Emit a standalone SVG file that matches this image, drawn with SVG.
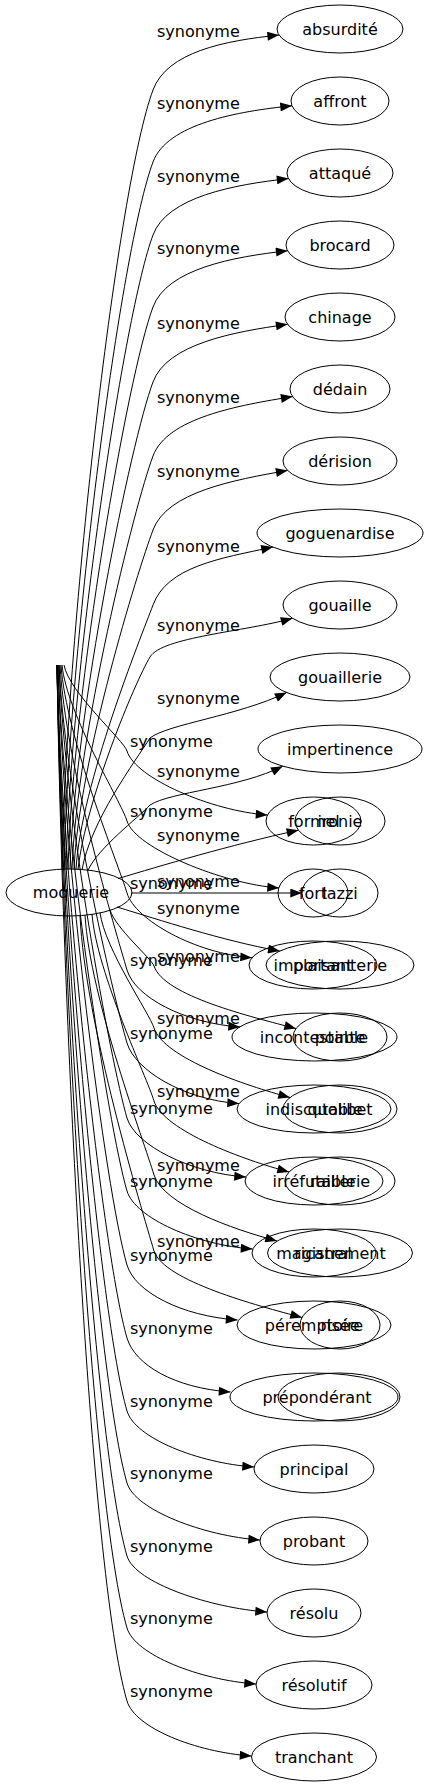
<svg xmlns="http://www.w3.org/2000/svg" width="429" height="1787" viewBox="0 0 429 1787">
<style>
.n ellipse{fill:none;stroke:#000;stroke-width:1}
text{font-family:"DejaVu Sans",Verdana,sans-serif;font-size:16px;fill:#000}
.n text{text-anchor:middle}
#edges path{fill:none;stroke:#000;stroke-width:1;marker-end:url(#ah)}
</style>
<defs>
<marker id="ah" viewBox="0 0 13 10" refX="13" refY="5" markerWidth="13" markerHeight="9" orient="auto" markerUnits="userSpaceOnUse"><path d="M0,0 L13,5 L0,10 z" fill="#000"/></marker>
</defs>
<g id="edges">
<path d="M62,869 C67,619 118,183.5 153,90 C167,52 224.4,40.6 279.1,35.1"/>
<path d="M64,869 C69,643 121,247 153,162 C167,124 237.3,111.3 292,105.8"/>
<path d="M66,869 C71,666 124.5,311 153,235 C167,197 233.8,184.6 288.5,178.6"/>
<path d="M68,869 C73,689 127.7,374.4 153,307 C167,269 232.9,256.8 287.6,250.8"/>
<path d="M70,869 C75,713 131.1,440.4 153,382 C167,344 233.2,331.9 287.6,324.3"/>
<path d="M72,869 C77,737 134.4,505.6 153,456 C167,418 238.3,405.3 292.6,396.6"/>
<path d="M74,869 C79,760 137.7,570.7 153,530 C167,492 233.5,480.1 287.6,470.4"/>
<path d="M76,869.2 C81,784.5 141.1,636.7 153,605 C167,567 219.1,558.4 272.9,547.1"/>
<path d="M78,869.5 C86,799 135,682 150,657 C162,637 244.4,631.8 292.5,618.3"/>
<path d="M82,870 C90,822 136,760 150,738 C168,724 238,716 286.6,692.5"/>
<path d="M88,870.3 C98,848 138,818 150,805 C170,792 240,788 282.7,766.2"/>
<path d="M118,878.6 C160,866 230,845 298.4,830.2"/>
<path d="M131,893 L302,893"/>
<path d="M117,907 C160,920 220,940 279.7,951.1"/>
<path d="M110,909.8 C115,927.8 152,959.1 154,966 C164,996 251,1016.6 296,1028.6"/>
<path d="M100,912.6 C105,949.5 149.8,1013.8 154,1028 C164,1058 245,1085.5 290,1097.5"/>
<path d="M92,914.2 C97,974 147.3,1078 154,1101 C164,1131 244,1160 289,1172"/>
<path d="M85,915.1 C90,998.3 144.6,1143 154,1175 C164,1205 232,1229 277,1241"/>
<path d="M80,915.6 C85,1023 141.9,1209.7 154,1251 C164,1281 257,1305.5 302,1317.5"/>
<path d="M64,665 C69,692.5 123.9,740.4 127,751 C135,778 211.5,811 267.5,815"/>
<path d="M62,665 C67,715 121.4,801.8 127,821 C135,848 223,884 279,888"/>
<path d="M61,665 C66,738 118.8,865 127,893 C135,920 196,953.7 252,957.7"/>
<path d="M60,665 C65,762.6 116,932.5 127,970 C135,997 184,1023 240,1027"/>
<path d="M59,665 C64,786 113.4,996.5 127,1043 C135,1070 183,1099.6 239,1103.6"/>
<path d="M59,665 C64,810 110.7,1062.3 127,1118 C135,1145 190,1173 246,1177"/>
<path d="M58,665 C63,833 108.1,1126.3 127,1191 C135,1218 196.5,1245 252.5,1249"/>
<path d="M58,665 C63,857 105.4,1191.2 127,1265 C135,1292 181.5,1316 237.5,1320"/>
<path d="M57,665 C62,880.4 102.8,1255.2 127,1338 C135,1365 174.5,1388 230.5,1392"/>
<path d="M57,665 C62,903.7 100.1,1319.2 127,1411 C135,1438 198,1463 254,1467"/>
<path d="M57,665 C62,926.8 97.6,1382.4 127,1483 C135,1510 204,1536 260,1540"/>
<path d="M57,665 C62,950 94.9,1446.4 127,1556 C135,1583 211,1608 267,1612"/>
<path d="M57,665 C62,973 92.3,1509.6 127,1628 C135,1655 200,1680 256,1684"/>
<path d="M57,665 C62,996.5 89.7,1573.6 127,1701 C135,1728 195.5,1752 251.5,1756"/>
<g id="labels">
<text x="157" y="37">synonyme</text>
<text x="157" y="109">synonyme</text>
<text x="157" y="182">synonyme</text>
<text x="157" y="254">synonyme</text>
<text x="157" y="329">synonyme</text>
<text x="157" y="403">synonyme</text>
<text x="157" y="477">synonyme</text>
<text x="157" y="552">synonyme</text>
<text x="157" y="631">synonyme</text>
<text x="157" y="704">synonyme</text>
<text x="157" y="777">synonyme</text>
<text x="157" y="841">synonyme</text>
<text x="157" y="887">synonyme</text>
<text x="157" y="914">synonyme</text>
<text x="157" y="962">synonyme</text>
<text x="157" y="1024">synonyme</text>
<text x="157" y="1097">synonyme</text>
<text x="157" y="1171">synonyme</text>
<text x="157" y="1247">synonyme</text>
<text x="130" y="747">synonyme</text>
<text x="130" y="817">synonyme</text>
<text x="130" y="889">synonyme</text>
<text x="130" y="966">synonyme</text>
<text x="130" y="1039">synonyme</text>
<text x="130" y="1114">synonyme</text>
<text x="130" y="1187">synonyme</text>
<text x="130" y="1261">synonyme</text>
<text x="130" y="1334">synonyme</text>
<text x="130" y="1407">synonyme</text>
<text x="130" y="1479">synonyme</text>
<text x="130" y="1552">synonyme</text>
<text x="130" y="1624">synonyme</text>
<text x="130" y="1697">synonyme</text>
</g>
</g>
<g id="moquerie" class="n"><ellipse cx="69" cy="892.5" rx="63" ry="23.5"/><text x="71" y="898">moquerie</text></g>
<g id="absurdite" class="n"><ellipse cx="340" cy="29" rx="63" ry="24"/><text x="340" y="35">absurdité</text></g>
<g id="affront" class="n"><ellipse cx="340" cy="101" rx="49" ry="24"/><text x="340" y="107">affront</text></g>
<g id="attaque" class="n"><ellipse cx="340" cy="173" rx="53" ry="24"/><text x="340" y="179">attaqué</text></g>
<g id="brocard" class="n"><ellipse cx="340" cy="245" rx="54" ry="24"/><text x="340" y="251">brocard</text></g>
<g id="chinage" class="n"><ellipse cx="340" cy="317" rx="55" ry="24"/><text x="340" y="323">chinage</text></g>
<g id="dedain" class="n"><ellipse cx="340" cy="389" rx="50" ry="24"/><text x="340" y="395">dédain</text></g>
<g id="derision" class="n"><ellipse cx="340" cy="461" rx="57" ry="24"/><text x="340" y="467">dérision</text></g>
<g id="goguenardise" class="n"><ellipse cx="340" cy="533" rx="83" ry="24"/><text x="340" y="539">goguenardise</text></g>
<g id="gouaille" class="n"><ellipse cx="340" cy="605" rx="57" ry="24"/><text x="340" y="611">gouaille</text></g>
<g id="gouaillerie" class="n"><ellipse cx="340" cy="677" rx="70" ry="24"/><text x="340" y="683">gouaillerie</text></g>
<g id="impertinence" class="n"><ellipse cx="340" cy="749" rx="82" ry="24"/><text x="340" y="755">impertinence</text></g>
<g id="ironie" class="n"><ellipse cx="340" cy="821" rx="45" ry="24"/><text x="340" y="827">ironie</text></g>
<g id="lazzi" class="n"><ellipse cx="340" cy="893" rx="38" ry="24"/><text x="340" y="899">lazzi</text></g>
<g id="plaisanterie" class="n"><ellipse cx="340" cy="965" rx="74" ry="24"/><text x="340" y="971">plaisanterie</text></g>
<g id="pointe" class="n"><ellipse cx="340" cy="1037" rx="47" ry="24"/><text x="340" y="1043">pointe</text></g>
<g id="quolibet" class="n"><ellipse cx="340" cy="1109" rx="57" ry="24"/><text x="340" y="1115">quolibet</text></g>
<g id="raillerie" class="n"><ellipse cx="340" cy="1181" rx="55" ry="24"/><text x="340" y="1187">raillerie</text></g>
<g id="ricanement" class="n"><ellipse cx="340" cy="1253" rx="72.5" ry="24"/><text x="340" y="1259">ricanement</text></g>
<g id="risee" class="n"><ellipse cx="340" cy="1325" rx="40" ry="24"/><text x="340" y="1331">risée</text></g>
<g id="extra" class="n"><ellipse cx="339" cy="1397" rx="61" ry="24"/></g>
<g id="formel" class="n"><ellipse cx="313.5" cy="821" rx="47.5" ry="24"/><text x="314" y="827">formel</text></g>
<g id="fort" class="n"><ellipse cx="313" cy="893" rx="35" ry="24"/><text x="313" y="899">fort</text></g>
<g id="important" class="n"><ellipse cx="313" cy="965" rx="64" ry="24"/><text x="313" y="971">important</text></g>
<g id="incontestable" class="n"><ellipse cx="314.5" cy="1037" rx="82.5" ry="24"/><text x="314" y="1043">incontestable</text></g>
<g id="indiscutable" class="n"><ellipse cx="314" cy="1109" rx="77" ry="24"/><text x="314" y="1115">indiscutable</text></g>
<g id="irrefutable" class="n"><ellipse cx="314" cy="1181" rx="69" ry="24"/><text x="314" y="1187">irréfutable</text></g>
<g id="magistral" class="n"><ellipse cx="314" cy="1253" rx="62" ry="24"/><text x="314" y="1259">magistral</text></g>
<g id="peremptoire" class="n"><ellipse cx="314" cy="1325" rx="77" ry="24"/><text x="314" y="1331">péremptoire</text></g>
<g id="preponderant" class="n"><ellipse cx="314" cy="1397" rx="84" ry="24"/><text x="317" y="1403">prépondérant</text></g>
<g id="principal" class="n"><ellipse cx="314" cy="1469" rx="60" ry="24"/><text x="314" y="1475">principal</text></g>
<g id="probant" class="n"><ellipse cx="314" cy="1541" rx="54" ry="24"/><text x="314" y="1547">probant</text></g>
<g id="resolu" class="n"><ellipse cx="314" cy="1613" rx="47" ry="24"/><text x="314" y="1619">résolu</text></g>
<g id="resolutif" class="n"><ellipse cx="314" cy="1685" rx="58" ry="24"/><text x="314" y="1691">résolutif</text></g>
<g id="tranchant" class="n"><ellipse cx="314" cy="1757" rx="62.5" ry="24"/><text x="314" y="1763">tranchant</text></g>
</svg>
